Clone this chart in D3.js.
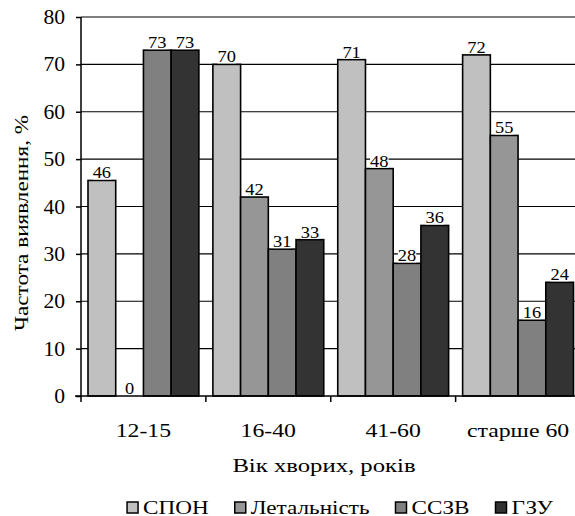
<!DOCTYPE html>
<html>
<head>
<meta charset="utf-8">
<script src="https://cdn.jsdelivr.net/npm/d3@7"></script>
</head>
<body style="margin:0; background:#ffffff">
<script>
// age groups and series
const categories = ["12-15", "16-40", "41-60", "старше 60"];
const seriesNames = ["СПОН", "Летальність", "ССЗВ", "ГЗУ"];
const spon = [45.5, 70, 71, 72];
const letalnist = [0, 42, 48, 55];
const sszv = [73, 31, 28, 16];
const gzu = [73, 33, 36, 24];
const yTicks = [0, 10, 20, 30, 40, 50, 60, 70, 80];
const colors = ["#c0c0c0", "#969696", "#808080", "#333333"];

const seriesValues = [spon, letalnist, sszv, gzu];

// canvas size
const W = 575, H = 516;
const plotLeft = 81, plotRight = 580.5, plotTop = 17, plotBottom = 396;
const FONT = '"Liberation Serif", "Times New Roman", serif';

// the reference font is a wide serif, so stretch liberation serif a bit
function widen(sel, k) {
  sel.each(function() {
    const w = this.getComputedTextLength();
    d3.select(this)
      .attr("textLength", w * k)
      .attr("lengthAdjust", "spacingAndGlyphs");
  });
}

// every text gets the serif font inline
function serif(sel, size) {
  sel.style("font-family", FONT)
    .style("font-size", size + "px")
    .style("font-weight", "normal")
    .attr("fill", "#000000");
}

const svg = d3.select("body").append("svg")
  .attr("width", W)
  .attr("height", H)
  .style("font-family", FONT);

const x0 = d3.scaleBand()
  .domain(categories)
  .range([plotLeft, plotRight])
  .padding(0);

const x1 = d3.scaleBand()
  .domain(seriesNames)
  .range([7, x0.bandwidth() - 7])
  .padding(0);

const y = d3.scaleLinear()
  .domain([0, 80])
  .range([plotBottom, plotTop]);

// horizontal gridlines
svg.append("g")
  .selectAll("line")
  .data(yTicks.filter(d => d > 0))
  .join("line")
  .attr("x1", plotLeft)
  .attr("x2", W)
  .attr("y1", d => y(d))
  .attr("y2", d => y(d))
  .attr("stroke", "#000000")
  .attr("stroke-width", 1.2);

// y axis
const yAxis = svg.append("g")
  .attr("transform", `translate(${plotLeft},0)`)
  .call(d3.axisLeft(y).tickValues(yTicks).tickSize(5).tickPadding(11).tickSizeOuter(0));
yAxis.attr("font-family", null).attr("font-size", null);
yAxis.select(".domain").attr("stroke", "#000").attr("stroke-width", 1.5)
  .attr("d", `M0,${plotTop}V${plotBottom + 6}`);
yAxis.selectAll(".tick line").attr("stroke", "#000").attr("stroke-width", 1.5);
yAxis.selectAll(".tick text")
  .call(serif, 20)
  .attr("dy", "0.33em")
  .call(widen, 1.08);

// bars
const groups = svg.append("g")
  .selectAll("g")
  .data(categories)
  .join("g")
  .attr("transform", d => `translate(${x0(d)},0)`);

const cells = groups.selectAll("g")
  .data((c, i) => seriesNames.map((s, k) => ({ s: s, k: k, v: seriesValues[k][i] })))
  .join("g");

cells.append("rect")
  .attr("x", d => x1(d.s))
  .attr("y", d => y(d.v))
  .attr("width", x1.bandwidth())
  .attr("height", d => y(0) - y(d.v))
  .attr("fill", d => colors[d.k])
  .attr("stroke", "#000000")
  .attr("stroke-width", 1.6);

// data labels with white boxes behind them
const labels = cells.append("text")
  .attr("x", d => x1(d.s) + x1.bandwidth() / 2)
  .attr("y", d => y(d.v) - 2)
  .attr("text-anchor", "middle")
  .call(serif, 16)
  .text(d => Math.round(d.v))
  .call(widen, 1.15);

labels.each(function() {
  const bb = this.getBBox();
  d3.select(this.parentNode).insert("rect", "text")
    .attr("x", bb.x)
    .attr("y", bb.y + 3)
    .attr("width", bb.width)
    .attr("height", bb.height - 5)
    .attr("fill", "#ffffff");
});

// x axis
const xAxis = svg.append("g")
  .attr("transform", `translate(0,${plotBottom})`);
xAxis.append("line")
  .attr("x1", plotLeft - 6)
  .attr("x2", W)
  .attr("stroke", "#000")
  .attr("stroke-width", 1.5);
xAxis.selectAll(".sep")
  .data(categories.slice(1))
  .join("line")
  .attr("class", "sep")
  .attr("x1", d => x0(d))
  .attr("x2", d => x0(d))
  .attr("y1", 0)
  .attr("y2", 6)
  .attr("stroke", "#000")
  .attr("stroke-width", 1.5);
xAxis.selectAll(".cat")
  .data(categories)
  .join("text")
  .attr("class", "cat")
  .attr("x", d => x0(d) + x0.bandwidth() / 2)
  .attr("y", 41)
  .attr("text-anchor", "middle")
  .call(serif, 19)
  .text(d => d)
  .call(widen, 1.25);

// axis titles
svg.append("text")
  .attr("x", 324)
  .attr("y", 472)
  .attr("text-anchor", "middle")
  .call(serif, 19)
  .text("Вік хворих, років")
  .call(widen, 1.3);

svg.append("text")
  .attr("transform", "translate(28,223) rotate(-90)")
  .attr("text-anchor", "middle")
  .call(serif, 19)
  .text("Частота виявлення, %")
  .call(widen, 1.22);

// legend
const legend = svg.append("g");
let lx = 0;
seriesNames.forEach((s, k) => {
  const item = legend.append("g").attr("transform", `translate(${lx},0)`);
  item.append("rect")
    .attr("x", 0)
    .attr("y", 502)
    .attr("width", 11)
    .attr("height", 11)
    .attr("fill", colors[k])
    .attr("stroke", "#000")
    .attr("stroke-width", 1.5);
  const t = item.append("text")
    .attr("x", 16)
    .attr("y", 514)
    .call(serif, 19)
    .text(s)
    .call(widen, 1.22);
  lx += 16 + +t.attr("textLength") + 26;
});
const legendWidth = lx - 26;
legend.attr("transform", `translate(${340 - legendWidth / 2},0)`);
</script>
</body>
</html>
